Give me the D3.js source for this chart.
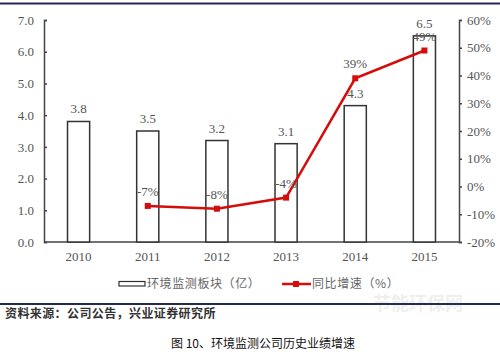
<!DOCTYPE html>
<html>
<head>
<meta charset="utf-8">
<title>环境监测公司历史业绩增速</title>
<script src="https://d3js.org/d3.v7.min.js"></script>
<style>
  body { margin: 0; background: #fff; }
  svg { display: block; }
</style>
</head>
<body>
<script>
const years = ["2010", "2011", "2012", "2013", "2014", "2015"];
const revenue = [3.8, 3.5, 3.2, 3.1, 4.3, 6.5];
const growth = [null, -7, -8, -4, 39, 49];
const leftTicks = [0, 1, 2, 3, 4, 5, 6, 7];
const rightTicks = [-20, -10, 0, 10, 20, 30, 40, 50, 60];
const barName = "环境监测板块（亿）";
const lineName = "同比增速（%）";
const sourceText = "资料来源：公司公告，兴业证券研究所";
const captionText = "图 10、环境监测公司历史业绩增速";

const W = 500, H = 354;
const plotL = 44, plotR = 459, plotT = 20, plotB = 242;
const serif = "'Liberation Serif', 'DejaVu Serif', serif";
const cjk = "'Noto Sans CJK SC', sans-serif";
const grey = "#444";
const red = "#d40c0c";

const svg = d3.select("body").append("svg")
    .attr("width", W)
    .attr("height", H);

// watermark (faint, behind everything)
svg.append("text").attr("x", 418).attr("y", 310).attr("text-anchor", "middle")
    .attr("fill", "#efefef").style("font-family", cjk).style("font-size", "18px").style("font-weight", "bold")
    .text("节能环保网");

// frame lines
svg.append("line").attr("x1", 0).attr("x2", W).attr("y1", 3.5).attr("y2", 3.5)
    .attr("stroke", "#252a52").attr("stroke-width", 2);
svg.append("line").attr("x1", 0).attr("x2", W).attr("y1", 304).attr("y2", 304)
    .attr("stroke", "#252a52").attr("stroke-width", 2);

const x = d3.scaleBand().domain(years).range([plotL, plotR]).paddingInner(0.68).paddingOuter(0.34);
const yL = d3.scaleLinear().domain([0, 7]).range([plotB, plotT]);
const yR = d3.scaleLinear().domain([-20, 60]).range([plotB, plotT]);

// axes
const axL = svg.append("g").attr("transform", `translate(${plotL},0)`)
    .call(d3.axisLeft(yL).tickValues(leftTicks).tickFormat(d3.format(".1f")).tickSize(-3).tickPadding(10));
const axR = svg.append("g").attr("transform", `translate(${plotR},0)`)
    .call(d3.axisRight(yR).tickValues(rightTicks).tickFormat(d => d + "%").tickSize(3).tickPadding(5));
const axB = svg.append("g").attr("transform", `translate(0,${plotB})`)
    .call(d3.axisBottom(x).tickSize(0).tickPadding(10));
axB.select(".domain").attr("d", `M${plotL},0H${plotR}`);

[axL, axR, axB].forEach(a => {
    a.selectAll(".domain").attr("stroke", grey).attr("stroke-width", 1.5);
    a.selectAll(".tick line").attr("stroke", grey).attr("stroke-width", 1.5);
    a.selectAll("text").attr("fill", "#555").style("font-family", serif).style("font-size", "13px");
});

// bars
svg.append("g").selectAll("rect")
    .data(revenue).join("rect")
    .attr("x", (d, i) => x(years[i]))
    .attr("y", d => yL(d))
    .attr("width", x.bandwidth())
    .attr("height", d => plotB - yL(d))
    .attr("fill", "#fff")
    .attr("stroke", "#333")
    .attr("stroke-width", 1.5);

svg.append("g").selectAll("text")
    .data(revenue).join("text")
    .attr("x", (d, i) => x(years[i]) + x.bandwidth() / 2)
    .attr("y", d => yL(d) - 8)
    .attr("text-anchor", "middle")
    .attr("fill", "#555")
    .style("font-family", serif).style("font-size", "13px")
    .text(d => d.toFixed(1));

// growth line
const pts = growth.map((g, i) => ({ year: years[i], g })).filter(d => d.g !== null);
const cx = d => x(d.year) + x.bandwidth() / 2;

svg.append("path")
    .datum(pts)
    .attr("fill", "none")
    .attr("stroke", red)
    .attr("stroke-width", 2.5)
    .attr("d", d3.line().x(cx).y(d => yR(d.g)));

svg.append("g").selectAll("rect")
    .data(pts).join("rect")
    .attr("x", d => cx(d) - 3)
    .attr("y", d => yR(d.g) - 3)
    .attr("width", 6).attr("height", 6)
    .attr("fill", red);

svg.append("g").selectAll("text")
    .data(pts).join("text")
    .attr("x", cx)
    .attr("y", d => yR(d.g) - 10)
    .attr("text-anchor", "middle")
    .attr("fill", "#555")
    .style("font-family", serif).style("font-size", "13px")
    .text(d => d.g + "%");

// legend
const lg = svg.append("g").style("font-family", cjk).style("font-size", "12px").attr("fill", "#666");
lg.append("rect").attr("x", 119).attr("y", 281.5).attr("width", 26).attr("height", 4.5)
    .attr("fill", "#fff").attr("stroke", "#333").attr("stroke-width", 1.2);
lg.append("text").attr("x", 147).attr("y", 288).attr("letter-spacing", "0.6px").text(barName);
lg.append("line").attr("x1", 282).attr("x2", 311).attr("y1", 284).attr("y2", 284)
    .attr("stroke", red).attr("stroke-width", 2.5);
lg.append("rect").attr("x", 293).attr("y", 281).attr("width", 6).attr("height", 6).attr("fill", red);
lg.append("text").attr("x", 312).attr("y", 288).attr("letter-spacing", "0.6px").text(lineName);

// source & caption
svg.append("text").attr("x", 5).attr("y", 318)
    .attr("fill", "#333").style("font-family", cjk).style("font-size", "12px").style("font-weight", "bold")
    .attr("letter-spacing", "0.4px")
    .text(sourceText);
svg.append("text").attr("x", 263).attr("y", 348).attr("text-anchor", "middle")
    .attr("fill", "#111").style("font-family", cjk).style("font-size", "12px")
    .text(captionText);
</script>
</body>
</html>
